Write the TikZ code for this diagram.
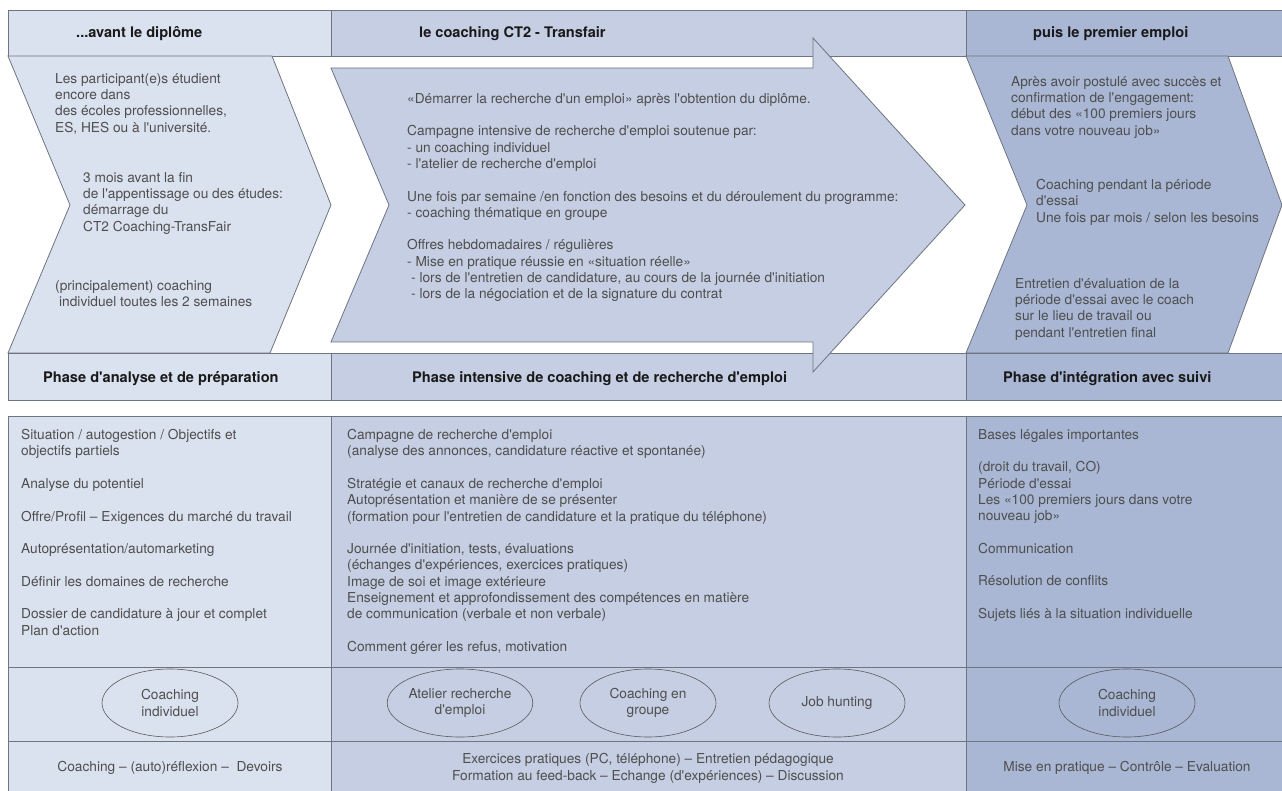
\documentclass[tikz,border=0pt]{standalone}
\usepackage{fontspec}
\setmainfont{TeX Gyre Heros}[Ligatures=TeXOff]
\usetikzlibrary{shapes.geometric}

\definecolor{colA}{RGB}{219,226,239}
\definecolor{colB}{RGB}{197,206,226}
\definecolor{colC}{RGB}{169,183,212}
\definecolor{rulegray}{RGB}{110,116,128}
\definecolor{txtgray}{RGB}{78,78,78}

\tikzset{
	rule/.style={draw=rulegray, line width=0.8pt},
	body/.style={font=\fontsize{13.7}{16.3}\selectfont, text=txtgray, align=left, inner sep=0pt, anchor=north west, yshift=11.41pt, execute at begin node=\strut},
	head/.style={font=\fontsize{14.6}{17}\selectfont\bfseries, text=black!90, inner sep=0pt, anchor=base west},
	oval/.style={ellipse, draw=black!65, line width=0.6pt, minimum width=136pt, minimum height=68pt, inner sep=0pt, align=center, font=\fontsize{13.7}{16.3}\selectfont, text=txtgray},
	foot/.style={font=\fontsize{13.7}{16.9}\selectfont, text=txtgray, align=center, inner sep=0pt}
}

\begin{document}
\begin{tikzpicture}[x=1pt, y=-1pt]
	\useasboundingbox[fill=white] (0,0) rectangle (1282,791);

	% bands
	\fill[colA] (8,10) rectangle (331,56);
	\fill[colB] (331,10) rectangle (966,56);
	\fill[colC] (966,10) rectangle (1282,56);
	\fill[colA] (8,353) rectangle (331,400);
	\fill[colB] (331,353) rectangle (966,400);
	\fill[colC] (966,353) rectangle (1282,400);
	\fill[colA] (8,416) rectangle (331,791);
	\fill[colB] (331,416) rectangle (966,791);
	\fill[colC] (966,416) rectangle (1282,791);
	\foreach \y in {10,56,353,400,416,667,741}
		\draw[rule] (8,\y) -- (1282,\y);
	\foreach \x in {8,331,966} {
		\draw[rule] (\x,10) -- (\x,56);
		\draw[rule] (\x,353) -- (\x,400);
		\draw[rule] (\x,416) -- (\x,791);
	}

	% chevrons and arrow
	\filldraw[rule, fill=colA] (8,56) -- (272,56) -- (331,205) -- (270,353) -- (8,353) -- (70,205) -- cycle;
	\filldraw[rule, fill=colC] (966,56) -- (1228,56) -- (1282,205) -- (1228,353) -- (966,353) -- (1027,205) -- cycle;
	\filldraw[rule, fill=colB] (331,68) -- (813,68) -- (813,38) -- (965,205) -- (813,372) -- (813,342) -- (331,342) -- (389,205) -- cycle;

	\node[head] (hdAvant) at (76,38) {...avant le diplôme};
	\node[head] (hdCoach) at (419,38) {le coaching CT2 - Transfair};
	\node[head] (hdPuis) at (1033,38) {puis le premier emploi};

	\node[body] (avA) at (55,84.5) {Les participant(e)s étudient\\encore dans\\des écoles professionnelles,\\ES, HES ou à l'université.};
	\node[body] (avB) at (83,183.5) {3 mois avant la fin\\de l'appentissage ou des études:\\démarrage du\\CT2 Coaching-TransFair};
	\node[body] (avC) at (55,291.5) {(principalement) coaching\\\hspace*{4pt}individuel toutes les 2 semaines};

	\node[body] (coA) at (407,104.5) {«Démarrer la recherche d'un emploi» après l'obtention du diplôme.\\[16.3pt]
		Campagne intensive de recherche d'emploi soutenue par:\\
		- un coaching individuel\\
		- l'atelier de recherche d'emploi\\[16.3pt]
		Une fois par semaine /en fonction des besoins et du déroulement du programme:\\
		- coaching thématique en groupe\\[16.3pt]
		Offres hebdomadaires / régulières\\
		- Mise en pratique réussie en «situation réelle»\\
		\hspace*{4pt}- lors de l'entretien de candidature, au cours de la journée d'initiation\\
		\hspace*{4pt}- lors de la négociation et de la signature du contrat};

	\node[body] (puA) at (1011,87.5) {Après avoir postulé avec succès et\\confirmation de l'engagement:\\début des «100 premiers jours\\dans votre nouveau job»};
	\node[body] (puB) at (1036,190.5) {Coaching pendant la période\\d'essai\\Une fois par mois / selon les besoins};
	\node[body] (puC) at (1015,289.5) {Entretien d'évaluation de la\\période d'essai avec le coach\\sur le lieu de travail ou\\pendant l'entretien final};

	\node[head] (phAnalyse) at (43,382) {Phase d'analyse et de préparation};
	\node[head] (phIntens) at (412,382) {Phase intensive de coaching et de recherche d'emploi};
	\node[head] (phInteg) at (1003,382) {Phase d'intégration avec suivi};

	\node[body] (thA) at (21,440.5) {Situation / autogestion / Objectifs et\\
		objectifs partiels\\[16.3pt]
		Analyse du potentiel\\[16.3pt]
		Offre/Profil – Exigences du marché du travail\\[16.3pt]
		Autoprésentation/automarketing\\[16.3pt]
		Définir les domaines de recherche\\[16.3pt]
		Dossier de candidature à jour et complet\\
		Plan d'action};
	\node[body] (thB) at (347,440.5) {Campagne de recherche d'emploi\\
		(analyse des annonces, candidature réactive et spontanée)\\[16.3pt]
		Stratégie et canaux de recherche d'emploi\\
		Autoprésentation et manière de se présenter\\
		(formation pour l'entretien de candidature et la pratique du téléphone)\\[16.3pt]
		Journée d'initiation, tests, évaluations\\
		(échanges d'expériences, exercices pratiques)\\
		Image de soi et image extérieure\\
		Enseignement et approfondissement des compétences en matière\\
		de communication (verbale et non verbale)\\[16.3pt]
		Comment gérer les refus, motivation};
	\node[body] (thC) at (978,440.5) {Bases légales importantes\\[16.3pt]
		(droit du travail, CO)\\
		Période d'essai\\
		Les «100 premiers jours dans votre\\
		nouveau job»\\[16.3pt]
		Communication\\[16.3pt]
		Résolution de conflits\\[16.3pt]
		Sujets liés à la situation individuelle};

	\node[oval] (ovIndivA) at (170,703) {Coaching\\individuel};
	\node[oval] (ovAtelier) at (460,703) {Atelier recherche\\d'emploi};
	\node[oval] (ovGroupe) at (648,703) {Coaching en\\groupe};
	\node[oval] (ovJob) at (837,703) {Job hunting};
	\node[oval] (ovIndivB) at (1127,703) {Coaching\\individuel};

	\node[foot] (ftA) at (170,768) {Coaching – (auto)réflexion –\ \ Devoirs};
	\node[foot] (ftB) at (648,768) {Exercices pratiques (PC, téléphone) – Entretien pédagogique\\Formation au feed-back – Echange (d'expériences) – Discussion};
	\node[foot] (ftC) at (1127,768) {Mise en pratique – Contrôle – Evaluation};
\end{tikzpicture}
\end{document}
